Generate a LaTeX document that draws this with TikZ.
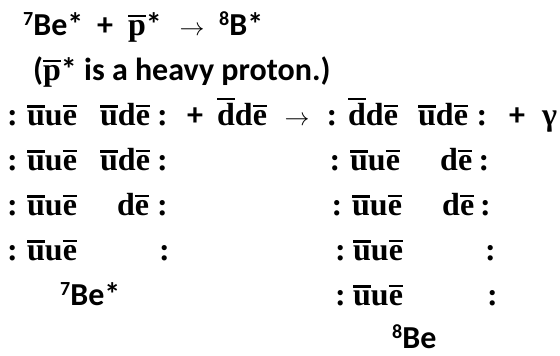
\documentclass[tikz,border=0pt]{standalone}
\usepackage{fontspec}
\setmainfont{Carlito}
\newfontfamily\mathf{Liberation Serif}
\newcommand\ovb[1]{\setbox0\hbox{#1}\rlap{\rule[\dimexpr\ht0+2.5pt\relax]{\wd0}{2.6pt}}\box0}
\newcommand\supn[1]{\raisebox{10pt}{\fontsize{20}{20}\selectfont #1}}
\newcommand\qq[1]{{\mathf #1}}
\newcommand\qUUE{{\mathf\ovb{u}u\ovb{e}}}
\newcommand\qUDE{{\mathf\ovb{u}d\ovb{e}}}
\newcommand\qDDE{{\mathf\ovb{d}d\ovb{e}}}
\newcommand\qDE{{\mathf d\ovb{e}}}
\newcommand\qarr{{\fontsize{25}{25}\selectfont$\rightarrow$}}
\tikzset{
  t/.style={inner sep=0pt, anchor=base west, font=\fontsize{32}{38}\selectfont\bfseries},
  c/.style={t, anchor=base},
  col/.style={c, font=\fontsize{32}{38}\selectfont\bfseries\mathf}
}
\begin{document}
\begin{tikzpicture}[x=1pt,y=-1pt]
\path[use as bounding box] (0,0) rectangle (560,356);
% row 1
\node[t] (r1a) at (23,35) {\supn{7}Be*};
\node[t] (r1b) at (97,35) {+};
\node[t] (r1c) at (128,35) {\qq{\ovb{p}}*};
\node[c] (r1d) at (192,35) {\qarr};
\node[t] (r1e) at (219,35) {\supn{8}B*};
% row 2
\node[t] (r2) at (33,80) {(\qq{\ovb{p}}* is a heavy proton.)};
% row 3
\node[col] (r3c1) at (12.5,125) {:};
\node[t] (r3a) at (27,125) {\qUUE};
\node[t] (r3b) at (100,125) {\qUDE};
\node[col] (r3c2) at (162.5,125) {:};
\node[t] (r3p) at (187,125) {+};
\node[t] (r3d) at (217,125) {\qDDE};
\node[c] (r3arr) at (297,125) {\qarr};
\node[col] (r3c3) at (332,125) {:};
\node[t] (r3e) at (348,125) {\qDDE};
\node[t] (r3f) at (418,125) {\qUDE};
\node[col] (r3c4) at (482,125) {:};
\node[t] (r3q) at (509,125) {+};
\node[t] (r3g) at (542,125) {\qq{γ}};
% row 4
\node[col] (r4c1) at (12.5,170) {:};
\node[t] (r4a) at (27,170) {\qUUE};
\node[t] (r4b) at (100,170) {\qUDE};
\node[col] (r4c2) at (162.5,170) {:};
\node[col] (r4c3) at (335,170) {:};
\node[t] (r4e) at (350,170) {\qUUE};
\node[t] (r4f) at (440,170) {\qDE};
\node[col] (r4c4) at (484,170) {:};
% row 5
\node[col] (r5c1) at (12.5,215) {:};
\node[t] (r5a) at (27,215) {\qUUE};
\node[t] (r5b) at (117,215) {\qDE};
\node[col] (r5c2) at (162.5,215) {:};
\node[col] (r5c3) at (337,215) {:};
\node[t] (r5e) at (352,215) {\qUUE};
\node[t] (r5f) at (442,215) {\qDE};
\node[col] (r5c4) at (485.5,215) {:};
% row 6
\node[col] (r6c1) at (12.5,260) {:};
\node[t] (r6a) at (27,260) {\qUUE};
\node[col] (r6c2) at (164.5,260) {:};
\node[col] (r6c3) at (340.5,260) {:};
\node[t] (r6e) at (353,260) {\qUUE};
\node[col] (r6c4) at (490.5,260) {:};
% row 7
\node[t] (r7a) at (60,305) {\supn{7}Be*};
\node[col] (r7c3) at (340.5,305) {:};
\node[t] (r7e) at (353,305) {\qUUE};
\node[col] (r7c4) at (492.5,305) {:};
% row 8
\node[t] (r8) at (392,348) {\supn{8}Be};
\end{tikzpicture}
\end{document}
